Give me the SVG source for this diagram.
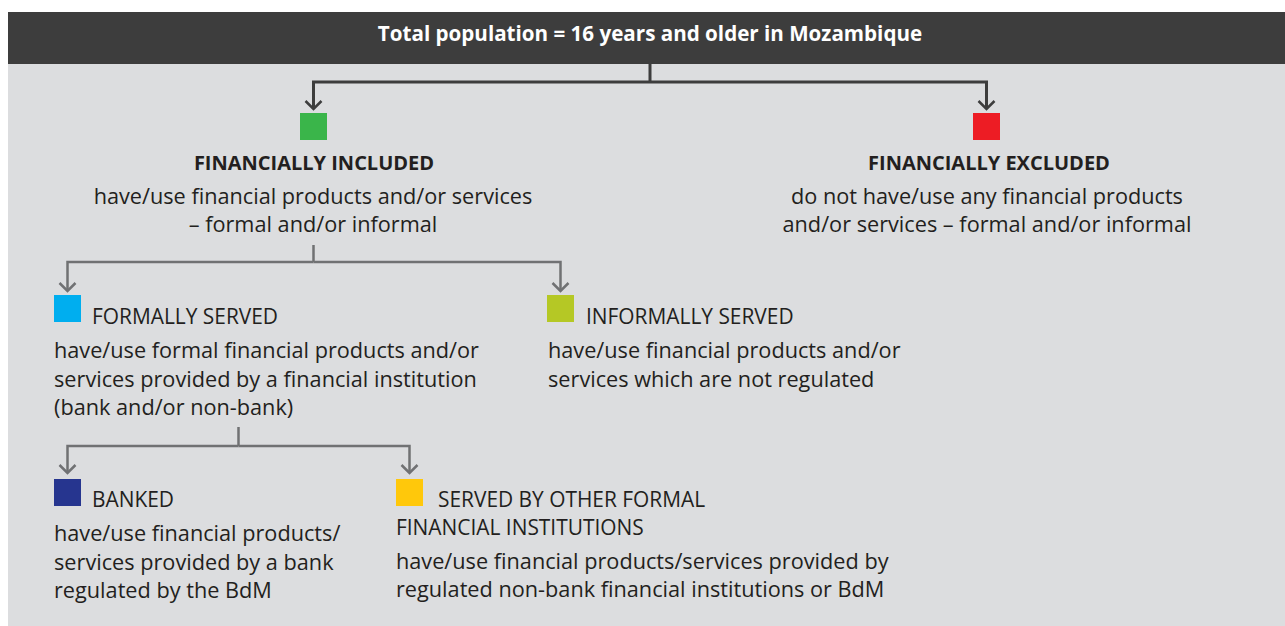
<svg xmlns="http://www.w3.org/2000/svg" width="1285" height="626" viewBox="0 0 1285 626">
  <style>
    .txt { font-family: "Open Sans", "Noto Sans", "Liberation Sans", sans-serif; fill: #231f20; font-size: 21.7px; }
    .cap { font-size: 20.9px; }
    .bold { font-weight: bold; font-size: 20px; }
    .mid { text-anchor: middle; }
    .head { font-family: "Open Sans", "Noto Sans", "Liberation Sans", sans-serif; font-weight: bold; font-size: 20.6px; fill: #ffffff; text-anchor: middle; }
    .conn-dark { fill: none; stroke: #3d3d3d; stroke-width: 3; marker-end: url(#arrowDark); }
    .conn-grey { fill: none; stroke: #707173; stroke-width: 2.5; marker-end: url(#arrowGrey); }
    .stem-dark { fill: none; stroke: #3d3d3d; stroke-width: 3; }
    .stem-grey { fill: none; stroke: #707173; stroke-width: 2.5; }
  </style>
  <defs>
    <marker id="arrowDark" markerUnits="userSpaceOnUse" viewBox="-10 -10 12 20" refX="0" refY="0" markerWidth="12" markerHeight="20" orient="auto">
      <path d="M-8,-8 L0,0 L-8,8" fill="none" stroke="#3d3d3d" stroke-width="2.5"/>
    </marker>
    <marker id="arrowGrey" markerUnits="userSpaceOnUse" viewBox="-10 -10 12 20" refX="0" refY="0" markerWidth="12" markerHeight="20" orient="auto">
      <path d="M-8,-8 L0,0 L-8,8" fill="none" stroke="#707173" stroke-width="2.5"/>
    </marker>
  </defs>

  <!-- panel background and title bar -->
  <rect x="0" y="0" width="1285" height="626" fill="#ffffff"/>
  <rect x="8" y="12" width="1277" height="614" fill="#dcdddf"/>
  <g id="title">
    <rect x="8" y="12" width="1277" height="52" fill="#3d3d3d"/>
    <text class="head" x="650" y="41">Total population = 16 years and older in Mozambique</text>
  </g>

  <!-- connectors -->
  <g id="connectors">
    <path class="stem-dark" d="M650,64 V82"/>
    <path class="conn-dark" d="M650,82 H313.5 V109"/>
    <path class="conn-dark" d="M650,82 H986.5 V109"/>

    <path class="stem-grey" d="M313.5,245 V262"/>
    <path class="conn-grey" d="M313.5,262 H67.5 V291"/>
    <path class="conn-grey" d="M313.5,262 H560.5 V291"/>

    <path class="stem-grey" d="M238.5,427 V446"/>
    <path class="conn-grey" d="M238.5,446 H67.5 V473"/>
    <path class="conn-grey" d="M238.5,446 H409.5 V473"/>
  </g>

  <g id="included">
    <rect x="300" y="113" width="27" height="27" fill="#3ab54a"/>
    <text class="txt bold mid" x="314" y="170">FINANCIALLY INCLUDED</text>
    <text class="txt mid" x="313" y="204">have/use financial products and/or services</text>
    <text class="txt mid" x="313" y="232">– formal and/or informal</text>
  </g>

  <g id="excluded">
    <rect x="973" y="113" width="27" height="27" fill="#ed1c24"/>
    <text class="txt bold mid" x="989" y="170">FINANCIALLY EXCLUDED</text>
    <text class="txt mid" x="987" y="204">do not have/use any financial products</text>
    <text class="txt mid" x="987" y="232">and/or services – formal and/or informal</text>
  </g>

  <g id="formally-served">
    <rect x="54" y="295" width="27" height="27" fill="#00aeef"/>
    <text class="txt cap" x="92" y="324">FORMALLY SERVED</text>
    <text class="txt" x="54" y="358">have/use formal financial products and/or</text>
    <text class="txt" x="54" y="387">services provided by a financial institution</text>
    <text class="txt" x="54" y="415">(bank and/or non-bank)</text>
  </g>

  <g id="informally-served">
    <rect x="547" y="295" width="27" height="27" fill="#b5c825"/>
    <text class="txt cap" x="586" y="324">INFORMALLY SERVED</text>
    <text class="txt" x="548" y="358">have/use financial products and/or</text>
    <text class="txt" x="548" y="387">services which are not regulated</text>
  </g>

  <g id="banked">
    <rect x="54" y="479" width="27" height="27" fill="#26358f"/>
    <text class="txt cap" x="92" y="507">BANKED</text>
    <text class="txt" x="54" y="541">have/use financial products/</text>
    <text class="txt" x="54" y="570">services provided by a bank</text>
    <text class="txt" x="54" y="598">regulated by the BdM</text>
  </g>

  <g id="other-formal">
    <rect x="396" y="479" width="27" height="27" fill="#ffc80b"/>
    <text class="txt cap" x="438" y="507">SERVED BY OTHER FORMAL</text>
    <text class="txt cap" x="396" y="535">FINANCIAL INSTITUTIONS</text>
    <text class="txt" x="396" y="569">have/use financial products/services provided by</text>
    <text class="txt" x="396" y="597">regulated non-bank financial institutions or BdM</text>
  </g>
</svg>
